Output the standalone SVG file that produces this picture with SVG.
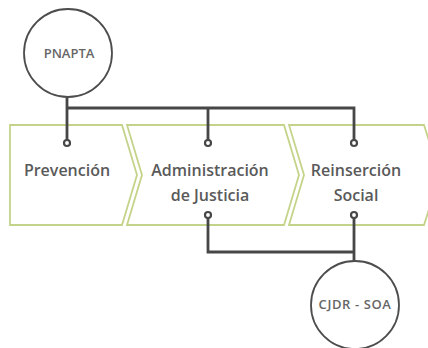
<svg xmlns="http://www.w3.org/2000/svg" width="428" height="348" viewBox="0 0 428 348">
<style>
.box{fill:#fff;stroke:#c3d48a;stroke-width:1.8;stroke-linejoin:miter}
.edge{fill:none;stroke:#474747;stroke-width:2.8}
.dot{fill:#fff;stroke:#474747;stroke-width:2.2}
.big{fill:#fff;stroke:#4d4d4d;stroke-width:1.8}
.lbl{font-family:"Open Sans",Lato,sans-serif;font-size:16px;font-weight:600;fill:#5a5a5a;text-anchor:middle}
.sm{font-family:"Open Sans",Lato,sans-serif;font-size:13px;font-weight:600;fill:#666;text-anchor:middle}
</style>
<rect width="428" height="348" fill="#fff"/>
<g id="prevencion">
<polygon class="box" points="10,125 122,125 137,175 122,225 10,225"/>
<text class="lbl" x="67" y="176">Prevención</text>
</g>
<g id="administracion">
<polygon class="box" points="127,125 284,125 299,175 284,225 127,225 142,175"/>
<text class="lbl" x="210" y="176">Administración</text>
<text class="lbl" x="210" y="201">de Justicia</text>
</g>
<g id="reinsercion">
<polygon class="box" points="289,125 424,125 440,175 424,225 289,225 304,175"/>
<text class="lbl" x="356" y="176">Reinserción</text>
<text class="lbl" x="356" y="201">Social</text>
</g>
<g id="connectors">
<path class="edge" d="M67,97 V140 M67,108 H354 V140 M208,108 V140"/>
<path class="edge" d="M208,218 V252 H354 M354,218 V261"/>
<circle class="dot" cx="67" cy="143" r="3"/>
<circle class="dot" cx="208" cy="143" r="3"/>
<circle class="dot" cx="354" cy="143" r="3"/>
<circle class="dot" cx="208" cy="215" r="3"/>
<circle class="dot" cx="354" cy="215" r="3"/>
</g>
<g id="pnapta">
<circle class="big" cx="68" cy="53" r="44"/>
<text class="sm" x="69" y="58">PNAPTA</text>
</g>
<g id="cjdr">
<circle class="big" cx="355" cy="305" r="44"/>
<text class="sm" x="355" y="309" style="letter-spacing:0.6px">CJDR - SOA</text>
</g>
</svg>
